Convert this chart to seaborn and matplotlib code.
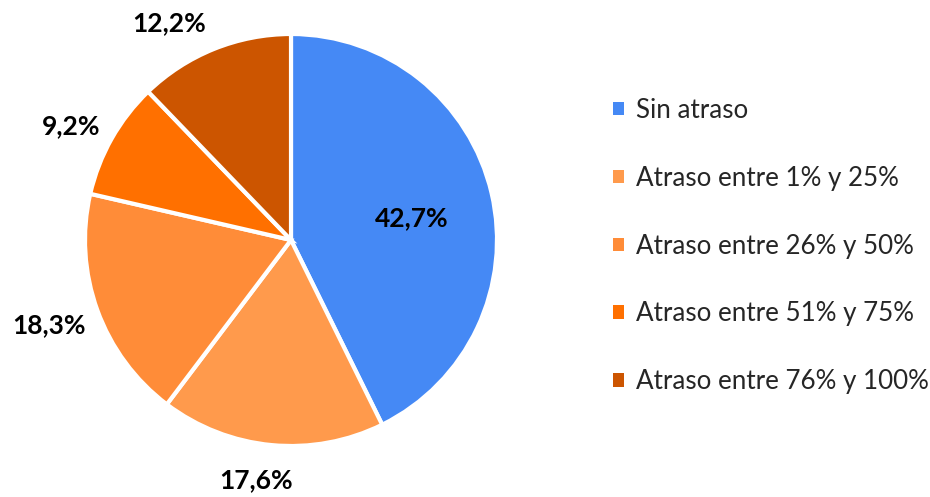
import numpy as np
import matplotlib
matplotlib.use("Agg")
import matplotlib.pyplot as plt
import seaborn as sns
from matplotlib.patches import Patch

categories = ["Sin atraso", "Atraso entre 1% y 25%", "Atraso entre 26% y 50%",
              "Atraso entre 51% y 75%", "Atraso entre 76% y 100%"]
values = [42.7, 17.6, 18.3, 9.2, 12.2]
colors = ["#4589F5", "#FF9A4C", "#FF8C38", "#FF7000", "#CC5500"]
label_dist = [0.60, 1.17, 1.25, 1.21, 1.21]
label_nudge = [(0, -6), (-12, 0), (0, 3), (-3, -9), (-29, -14)]

sns.set_theme(style="white")
plt.rcParams['font.family'] = ['Lato', 'DejaVu Sans']

W, H = 930, 497
fig = plt.figure(figsize=(W / 100, H / 100), dpi=100)
ax = fig.add_axes([0, 0, 1, 1])

cx, cy, R = 291, H - 240, 206
wedges, _ = ax.pie(values, colors=colors, startangle=90, counterclock=False,
                   center=(cx, cy), radius=R, frame=True,
                   wedgeprops=dict(edgecolor="white", linewidth=3))
ax.set_xlim(0, W)
ax.set_ylim(0, H)
ax.set_aspect("equal")
ax.axis("off")

for w, v, d, (nx, ny) in zip(wedges, values, label_dist, label_nudge):
    ang = np.deg2rad((w.theta1 + w.theta2) / 2)
    x = cx + d * R * np.cos(ang) + nx
    y = cy + d * R * np.sin(ang) + ny
    ax.text(x, y, f"{v:.1f}%".replace(".", ","), ha="center", va="center",
            fontsize=19, fontweight="bold", color="black")

handles = [Patch(facecolor=c, edgecolor="none") for c in colors]
fig.legend(handles, categories, loc="center left",
           bbox_to_anchor=(590 / W, 1 - 246 / H), frameon=False,
           fontsize=18.7, handlelength=0.42, handleheight=0.42,
           handletextpad=0.45, labelspacing=1.65)

fig.savefig("out.png", dpi=100)
